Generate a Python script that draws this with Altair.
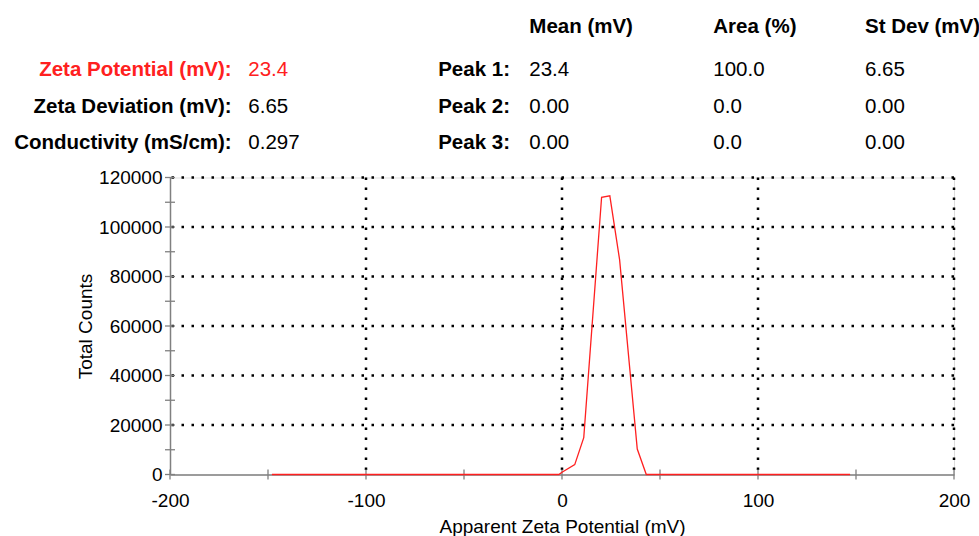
import altair as alt
import pandas as pd

# ---- data ----
zeta_mv = [-148.0, -1.6, 0.0, 6.5, 11.1, 20.2, 24.4, 29.4, 38.4, 43.0, 147.0]
total_counts = [0, 0, 900, 4000, 14900, 112000, 112600, 86700, 10300, 0, 0]

x_major = [-200, -100, 0, 100, 200]
x_minor = [-150, -50, 50, 150]
y_major = [0, 20000, 40000, 60000, 80000, 100000, 120000]
y_minor = [10000, 30000, 50000, 70000, 90000, 110000]
x_grid = [-100, 0, 100, 200]
y_grid = [20000, 40000, 60000, 80000, 100000, 120000]

summary_labels = ["Zeta Potential (mV):", "Zeta Deviation (mV):", "Conductivity (mS/cm):"]
summary_values = ["23.4", "6.65", "0.297"]
peak_labels = ["Peak 1:", "Peak 2:", "Peak 3:"]
peak_mean = ["23.4", "0.00", "0.00"]
peak_area = ["100.0", "0.0", "0.0"]
peak_stdev = ["6.65", "0.00", "0.00"]
col_headers = ["Mean (mV)", "Area (%)", "St Dev (mV)"]

# ---- layout / style ----
W, H = 784, 297
FONT = "Liberation Sans"
AXIS_GREY = "#808080"
RED = "#ff2020"
LABEL_EXPR = "datum.value < 0 ? '-' + format(-datum.value, 'd') : format(datum.value, 'd')"

xs = alt.Scale(domain=[-200, 200], nice=False, zero=False)
ys = alt.Scale(domain=[0, 120000], nice=False)

spec = pd.DataFrame({"zeta": zeta_mv, "counts": total_counts})

x_axis = alt.Axis(values=x_major, grid=False, ticks=False, domainColor=AXIS_GREY,
                  domainWidth=1.5, labelFont=FONT, labelFontSize=19, labelColor="black",
                  labelPadding=17, labelFlush=False, labelExpr=LABEL_EXPR,
                  title="Apparent Zeta Potential (mV)",
                  titleFont=FONT, titleFontSize=19, titleFontWeight="normal",
                  titleColor="black", titleY=52, titleBaseline="middle")
y_axis = alt.Axis(values=y_major, grid=False, ticks=False, domainColor=AXIS_GREY,
                  domainWidth=1.5, labelFont=FONT, labelFontSize=19, labelColor="black",
                  labelPadding=8, labelFlush=False, labelExpr=LABEL_EXPR,
                  title="Total Counts",
                  titleFont=FONT, titleFontSize=19, titleFontWeight="normal",
                  titleColor="black", titleX=-85, titleY=H / 2, titleAngle=270,
                  titleAlign="center", titleBaseline="middle")

dot = dict(color="black", strokeDash=[2.5, 7.5], strokeWidth=2.5)

vgrid = alt.Chart(pd.DataFrame({"v": x_grid})).mark_rule(**dot).encode(
    x=alt.X("v:Q", scale=xs, axis=x_axis))
hgrid = alt.Chart(pd.DataFrame({"v": y_grid})).mark_rule(**dot).encode(
    y=alt.Y("v:Q", scale=ys, axis=y_axis))

xticks = alt.Chart(pd.DataFrame({"v": x_major + x_minor})).mark_rule(
    color=AXIS_GREY, strokeWidth=1.3).encode(
    x=alt.X("v:Q", scale=xs), y=alt.value(H - 5), y2=alt.value(H + 5))
yticks = alt.Chart(pd.DataFrame({"v": y_major + y_minor})).mark_rule(
    color=AXIS_GREY, strokeWidth=1.3).encode(
    y=alt.Y("v:Q", scale=ys), x=alt.value(-5), x2=alt.value(5))

line = alt.Chart(spec).mark_line(color=RED, strokeWidth=1.3).encode(
    x=alt.X("zeta:Q", scale=xs, axis=x_axis),
    y=alt.Y("counts:Q", scale=ys, axis=y_axis))

# ---- header table (text annotations, positions relative to plot origin) ----
row_y = [-101.5, -64.8, -28.5]
head_y = -145
texts = []


def txt(s, x, y, align="left", bold=False, color="black"):
    return alt.Chart(pd.DataFrame({"t": [s]})).mark_text(
        align=align, baseline="alphabetic", font=FONT, fontSize=20.5,
        fontWeight="bold" if bold else "normal", color=color).encode(
        text="t:N", x=alt.value(x), y=alt.value(y))


for i in range(3):
    c = RED if i == 0 else "black"
    texts.append(txt(summary_labels[i], 61.7, row_y[i], "right", True, c))
    texts.append(txt(summary_values[i], 78.3, row_y[i], "left", False, c))
    texts.append(txt(peak_labels[i], 340, row_y[i], "right", True))
    texts.append(txt(peak_mean[i], 359.3, row_y[i]))
    texts.append(txt(peak_area[i], 543.3, row_y[i]))
    texts.append(txt(peak_stdev[i], 695, row_y[i]))
for hx, h in zip([359.3, 543.3, 695], col_headers):
    texts.append(txt(h, hx, head_y, "left", True))

chart = alt.layer(vgrid, hgrid, xticks, yticks, line, *texts).properties(
    width=W, height=H,
    autosize=alt.AutoSizeParams(type="none"),
    padding={"left": 170, "top": 177.5, "right": 25, "bottom": 61.5},
).configure_view(stroke=None).configure(background="white")

chart.save("out.html", embed_options={"renderer": "svg", "actions": False})
